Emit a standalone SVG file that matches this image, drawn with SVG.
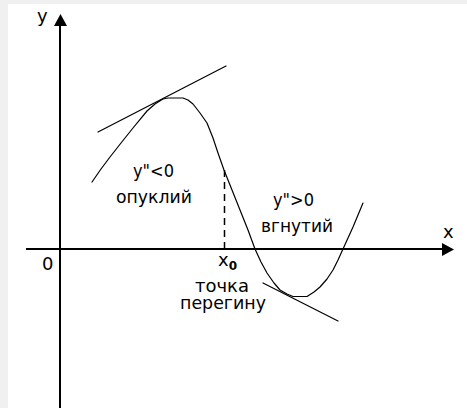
<svg xmlns="http://www.w3.org/2000/svg" width="467" height="408" viewBox="0 0 467 408">
<style>
.axis{stroke:#000;stroke-width:2;fill:none}
.thin{stroke:#000;stroke-width:1.2;fill:none;stroke-linejoin:round;stroke-linecap:round}
.dash{stroke:#000;stroke-width:1.5;fill:none;stroke-dasharray:7 5}
.lbl{font-family:"DejaVu Sans","Liberation Sans",sans-serif;font-size:18px;fill:#000}
.head{fill:#000}
</style>
<rect x="0" y="0" width="467" height="408" fill="#f0f0f0"/>
<rect x="8" y="4" width="459" height="404" fill="#fff"/>
<g id="axes">
<line class="axis" x1="60" y1="24" x2="60" y2="408"/>
<polygon class="head" points="60.5,14 54,26 67,26"/>
<line class="axis" x1="26" y1="249" x2="444" y2="249"/>
<polygon class="head" points="454,249.5 442,243 442,256"/>
</g>
<g id="curve">
<polyline class="thin" points="92,182 101,169 110,157 121,143 133,128 147,111 155,104 163,99 168,98 183,98 188,100 193,104 200,113 207,123 213,138 218,153 224,170 232,190 240,210 248,230 255,249 261,262 267,273 274,283 280,290 287,294 293,296.5 307,296.5 314,292 320,287 327,279 333,270 338,260 343,249 348,238 353,227 358,215 363,203"/>
</g>
<g id="connectors">
<line class="thin" x1="98" y1="132" x2="226" y2="66"/>
<line class="thin" x1="263" y1="283" x2="338" y2="321"/>
<line class="dash" x1="224.5" y1="170" x2="224.5" y2="249"/>
</g>
<g id="labels">
<text class="lbl" x="37" y="22">y</text>
<text class="lbl" x="443" y="238">x</text>
<text class="lbl" x="42" y="270">0</text>
<text class="lbl" x="133" y="177" textLength="41" lengthAdjust="spacingAndGlyphs">y"&lt;0</text>
<text class="lbl" x="116" y="203" textLength="76" lengthAdjust="spacingAndGlyphs">опуклий</text>
<text class="lbl" x="273" y="206" textLength="41" lengthAdjust="spacingAndGlyphs">y"&gt;0</text>
<text class="lbl" x="261" y="232" textLength="72" lengthAdjust="spacingAndGlyphs">вгнутий</text>
<text class="lbl" x="218" y="266">x<tspan font-size="12" font-weight="bold" dy="4">0</tspan></text>
<text class="lbl" x="195" y="292" textLength="54" lengthAdjust="spacingAndGlyphs">точка</text>
<text class="lbl" x="180" y="309" textLength="86" lengthAdjust="spacingAndGlyphs">перегину</text>
</g>
</svg>
